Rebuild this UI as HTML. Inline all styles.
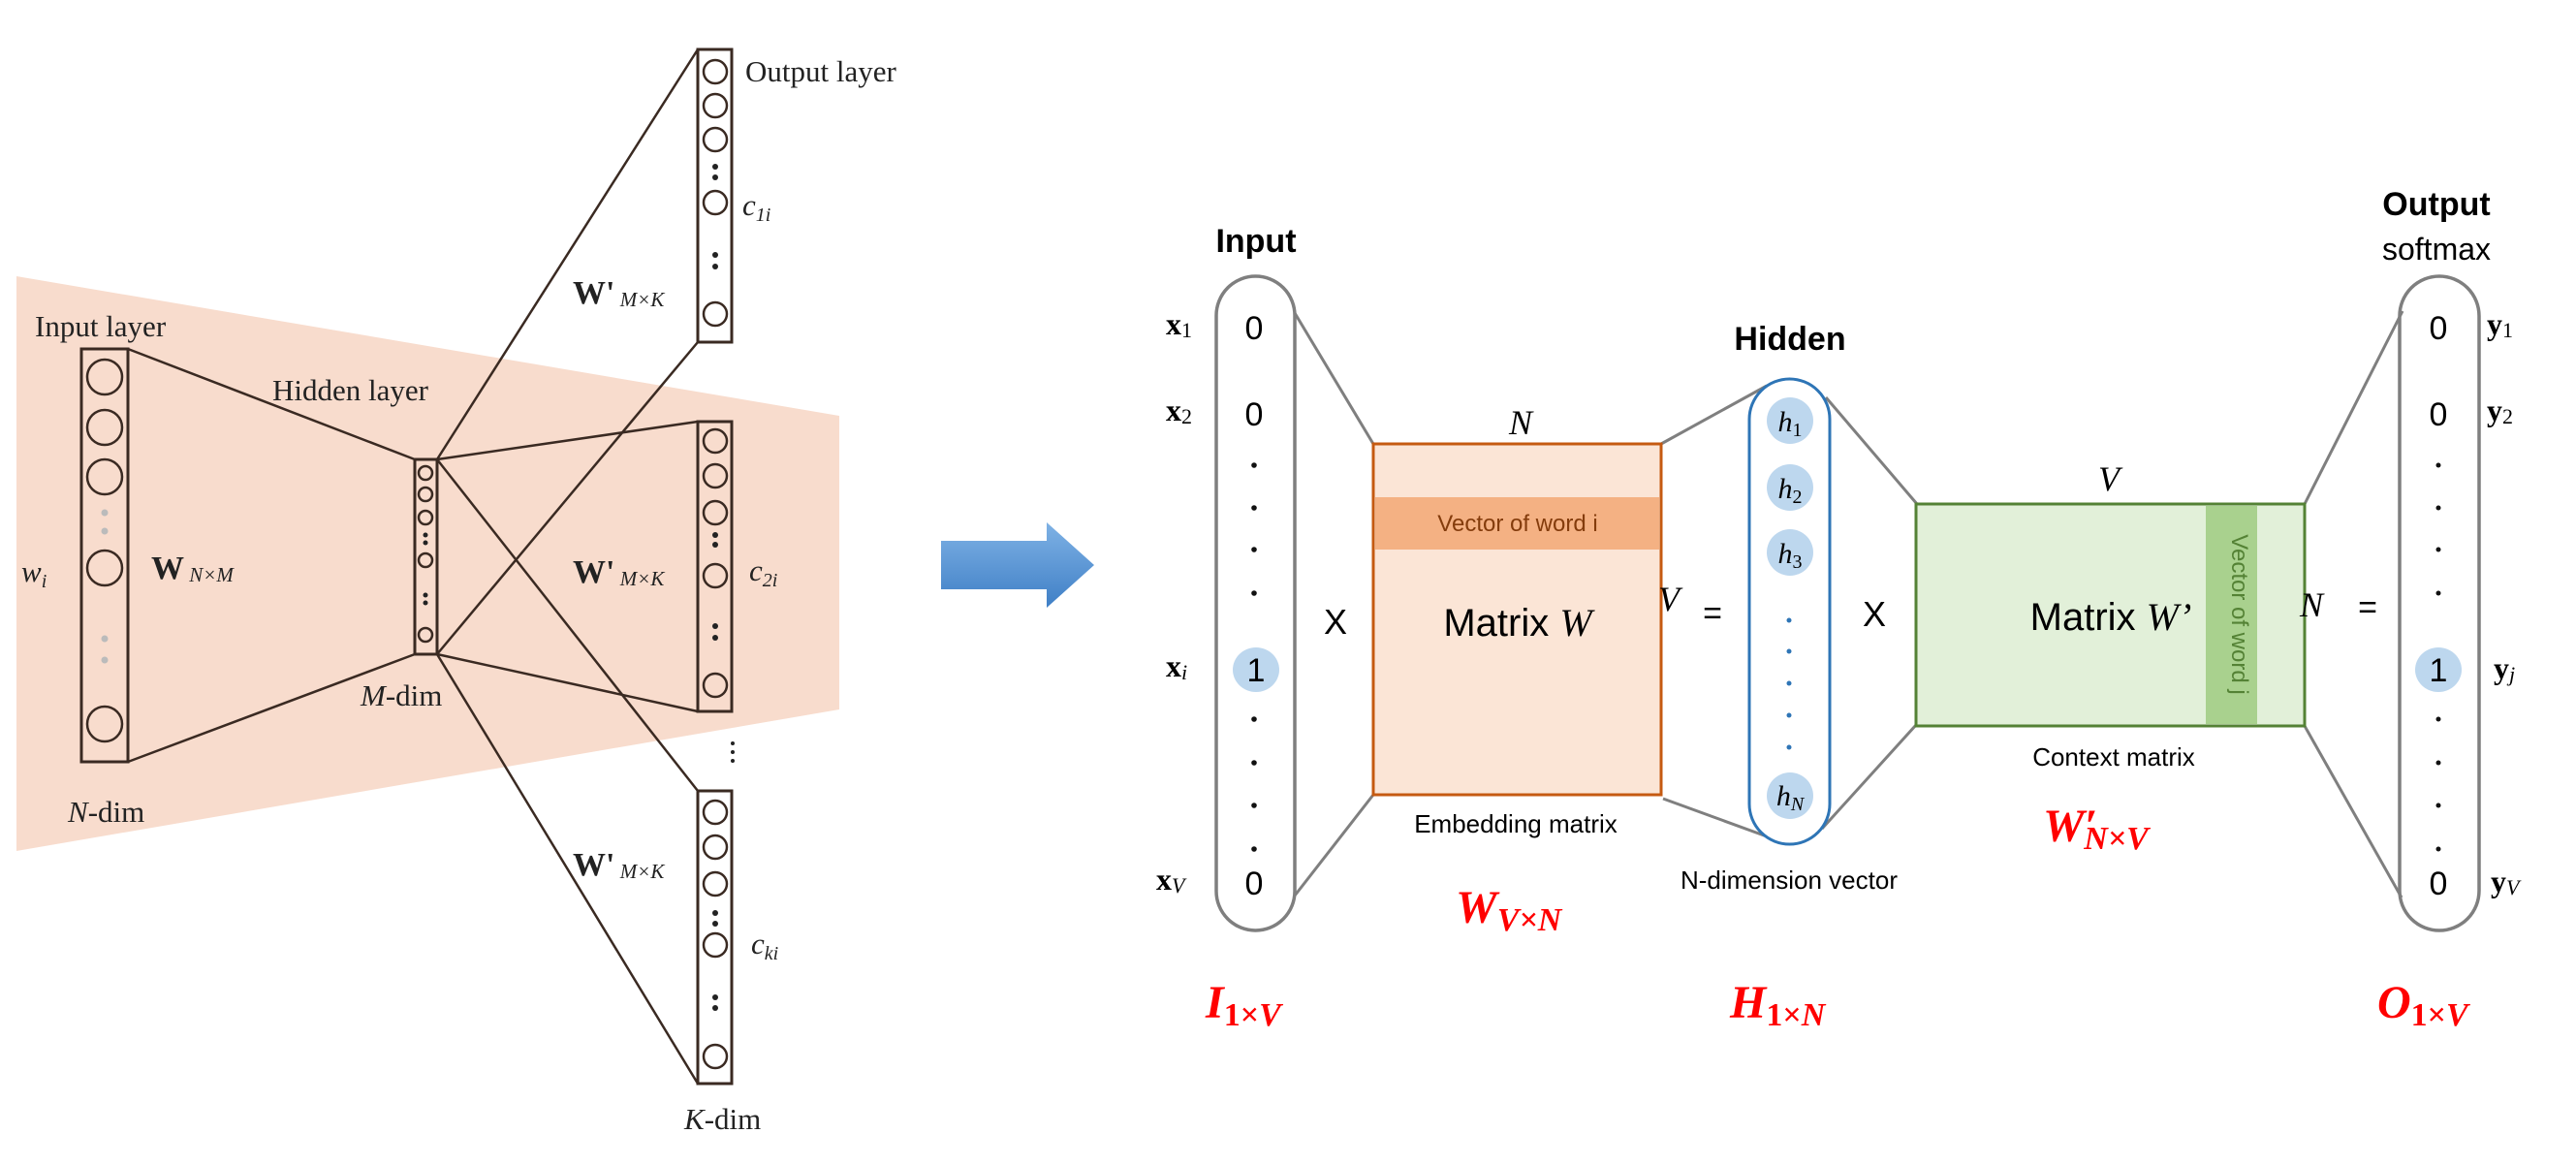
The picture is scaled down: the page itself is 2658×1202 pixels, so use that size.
<!DOCTYPE html>
<html><head><meta charset="utf-8"><style>
html,body{margin:0;padding:0;background:#fff;}
svg{display:block;}
.ser{font-family:"Liberation Serif",serif;}
.san{font-family:"Liberation Sans",sans-serif;}
</style></head><body>
<svg width="2658" height="1202" viewBox="0 0 2658 1202" xmlns="http://www.w3.org/2000/svg">
<defs>
<linearGradient id="ag" x1="0" y1="0" x2="0" y2="1">
<stop offset="0" stop-color="#7fb2e5"/><stop offset="1" stop-color="#3f7fc6"/>
</linearGradient>
</defs>
<!-- LEFT DIAGRAM -->
<polygon points="17,285 866,429 866,732 17,878" fill="#f8dccd"/>
<g stroke="#3a2a22" stroke-width="2.5" fill="none">
<line x1="132" y1="360" x2="428" y2="474"/>
<line x1="132" y1="786" x2="428" y2="675"/>
<line x1="451" y1="474" x2="720" y2="51"/>
<line x1="451" y1="675" x2="720" y2="353"/>
<line x1="451" y1="474" x2="720" y2="435"/>
<line x1="451" y1="675" x2="720" y2="734"/>
<line x1="451" y1="474" x2="720" y2="816"/>
<line x1="451" y1="675" x2="720" y2="1118"/>
<rect x="84" y="360" width="48" height="426" stroke-width="3"/>
<circle cx="108" cy="389" r="18"/><circle cx="108" cy="441" r="18"/><circle cx="108" cy="492" r="18"/>
<circle cx="108" cy="586" r="18"/><circle cx="108" cy="747" r="18"/>
<rect x="428" y="474" width="23" height="201" stroke-width="3"/>
<circle cx="439" cy="488" r="7"/><circle cx="439" cy="510" r="7"/><circle cx="439" cy="534" r="7"/>
<circle cx="439" cy="578" r="7"/><circle cx="439" cy="655" r="7"/>
<rect x="720" y="51" width="35" height="302" stroke-width="3"/>
<circle cx="738" cy="74" r="12"/><circle cx="738" cy="109" r="12"/><circle cx="738" cy="144" r="12"/><circle cx="738" cy="209" r="12"/><circle cx="738" cy="324" r="12"/>
<rect x="720" y="435" width="35" height="299" stroke-width="3"/>
<circle cx="738" cy="455" r="12"/><circle cx="738" cy="491" r="12"/><circle cx="738" cy="529" r="12"/><circle cx="738" cy="594" r="12"/><circle cx="738" cy="707" r="12"/>
<rect x="720" y="816" width="35" height="302" stroke-width="3"/>
<circle cx="738" cy="838" r="12"/><circle cx="738" cy="874" r="12"/><circle cx="738" cy="912" r="12"/><circle cx="738" cy="975" r="12"/><circle cx="738" cy="1090" r="12"/>
</g>
<g fill="#bbb"><circle cx="108" cy="529" r="3.5"/><circle cx="108" cy="548" r="3.5"/><circle cx="108" cy="659" r="3.5"/><circle cx="108" cy="681" r="3.5"/></g>
<g fill="#222">
<circle cx="439" cy="552" r="2.5"/><circle cx="439" cy="560" r="2.5"/><circle cx="439" cy="614" r="2.5"/><circle cx="439" cy="622" r="2.5"/>
<circle cx="738" cy="172" r="3"/><circle cx="738" cy="183" r="3"/><circle cx="738" cy="263" r="3"/><circle cx="738" cy="275" r="3"/>
<circle cx="738" cy="552" r="3"/><circle cx="738" cy="562" r="3"/><circle cx="738" cy="646" r="3"/><circle cx="738" cy="658" r="3"/>
<circle cx="738" cy="942" r="3"/><circle cx="738" cy="953" r="3"/><circle cx="738" cy="1029" r="3"/><circle cx="738" cy="1040" r="3"/>
<circle cx="756" cy="767" r="2"/><circle cx="756" cy="776" r="2"/><circle cx="756" cy="785" r="2"/>
</g>
<g class="ser" fill="#222" font-size="31">
<text x="36" y="347">Input layer</text>
<text x="281" y="413">Hidden layer</text>
<text x="769" y="84">Output layer</text>
<text x="22" y="600" font-style="italic">w<tspan font-size="20" dy="6">i</tspan></text>
<text x="156" y="597" font-weight="bold" font-size="34">W<tspan font-weight="normal" font-style="italic" font-size="21" dy="3"> N×M</tspan></text>
<text x="591" y="313" font-weight="bold" font-size="34">W'<tspan font-weight="normal" font-style="italic" font-size="21" dy="3"> M×K</tspan></text>
<text x="591" y="601" font-weight="bold" font-size="34">W'<tspan font-weight="normal" font-style="italic" font-size="21" dy="3"> M×K</tspan></text>
<text x="591" y="903" font-weight="bold" font-size="34">W'<tspan font-weight="normal" font-style="italic" font-size="21" dy="3"> M×K</tspan></text>
<text x="766" y="222" font-style="italic">c<tspan font-size="20" dy="6">1i</tspan></text>
<text x="773" y="599" font-style="italic">c<tspan font-size="20" dy="6">2i</tspan></text>
<text x="775" y="984" font-style="italic">c<tspan font-size="20" dy="6">ki</tspan></text>
<text x="372" y="728"><tspan font-style="italic">M</tspan>-dim</text>
<text x="70" y="848"><tspan font-style="italic">N</tspan>-dim</text>
<text x="706" y="1165"><tspan font-style="italic">K</tspan>-dim</text>
</g>
<!-- ARROW -->
<polygon points="971,558 1080,558 1080,539 1129,583 1080,627 1080,608 971,608" fill="url(#ag)"/>
<!-- RIGHT DIAGRAM -->
<g stroke="#7f7f7f" stroke-width="3" fill="none">
<line x1="1336" y1="323" x2="1417" y2="458"/>
<line x1="1336" y1="924" x2="1417" y2="820"/>
<line x1="1714" y1="458" x2="1823" y2="398"/>
<line x1="1716" y1="824" x2="1823" y2="863"/>
<line x1="1884" y1="410" x2="1978" y2="520"/>
<line x1="1880" y1="855" x2="1977" y2="748"/>
<line x1="2378" y1="520" x2="2479" y2="321"/>
<line x1="2378" y1="749" x2="2478" y2="926"/>
<rect x="1255" y="285" width="81" height="675" rx="40.5" stroke-width="3.5"/>
<rect x="2476" y="285" width="82" height="675" rx="41" stroke-width="3.5"/>
</g>
<rect x="1417" y="458" width="297" height="362" fill="#fbe5d6" stroke="#c55a11" stroke-width="3"/>
<rect x="1419" y="513" width="293" height="54" fill="#f4b183"/>
<rect x="1977" y="520" width="401" height="229" fill="#e2f0d9" stroke="#548235" stroke-width="3"/>
<rect x="2276" y="522" width="53" height="225" fill="#a9d18e"/>
<rect x="1805" y="391" width="83" height="480" rx="41.5" fill="#fff" stroke="#2e75b6" stroke-width="3"/>
<g fill="#bdd7ee">
<ellipse cx="1296" cy="691" rx="24" ry="23"/>
<ellipse cx="2516" cy="691" rx="24" ry="23"/>
<circle cx="1847" cy="434" r="24"/><circle cx="1847" cy="503" r="24"/><circle cx="1847" cy="570" r="24"/><circle cx="1847" cy="821" r="24"/>
</g>
<g fill="#2e75b6"><circle cx="1846" cy="640" r="2.5"/><circle cx="1846" cy="672" r="2.5"/><circle cx="1846" cy="705" r="2.5"/><circle cx="1846" cy="738" r="2.5"/><circle cx="1846" cy="771" r="2.5"/></g>
<g fill="#111">
<circle cx="1294" cy="480" r="2.8"/><circle cx="1294" cy="524" r="2.8"/><circle cx="1294" cy="567" r="2.8"/><circle cx="1294" cy="612" r="2.8"/>
<circle cx="1294" cy="742" r="2.8"/><circle cx="1294" cy="787" r="2.8"/><circle cx="1294" cy="831" r="2.8"/><circle cx="1294" cy="876" r="2.8"/>
<circle cx="2516" cy="480" r="2.5"/><circle cx="2516" cy="524" r="2.5"/><circle cx="2516" cy="567" r="2.5"/><circle cx="2516" cy="612" r="2.5"/>
<circle cx="2516" cy="742" r="2.5"/><circle cx="2516" cy="787" r="2.5"/><circle cx="2516" cy="831" r="2.5"/><circle cx="2516" cy="876" r="2.5"/>
</g>
<g class="san" fill="#000" text-anchor="middle">
<text x="1296" y="260" font-size="34" font-weight="bold">Input</text>
<text x="1847" y="361" font-size="34" font-weight="bold">Hidden</text>
<text x="2514" y="222" font-size="34" font-weight="bold">Output</text>
<text x="2514" y="268" font-size="32">softmax</text>
<g font-size="34">
<text x="1294" y="350">0</text><text x="1294" y="439">0</text><text x="1296" y="703">1</text><text x="1294" y="923">0</text>
<text x="2516" y="350">0</text><text x="2516" y="439">0</text><text x="2516" y="703">1</text><text x="2516" y="923">0</text>
<text x="1378" y="654" font-size="36">X</text>
<text x="1934" y="646" font-size="36">X</text>
<text x="1767" y="644">=</text>
<text x="2443" y="638">=</text>
</g>
<text x="1566" y="548" font-size="24" fill="#843c0c">Vector of word i</text>
<text x="1566" y="656" font-size="40">Matrix <tspan class="ser" font-style="italic">W</tspan></text>
<text x="2178" y="650" font-size="40">Matrix <tspan class="ser" font-style="italic">W’</tspan></text>
<text x="1564" y="859" font-size="26">Embedding matrix</text>
<text x="2181" y="790" font-size="26">Context matrix</text>
<text x="1846" y="917" font-size="26">N-dimension vector</text>
<text x="2303" y="634" font-size="24" fill="#548235" transform="rotate(90 2303 634)">Vector of word j</text>
</g>
<g class="ser" fill="#000" font-style="italic" font-size="36">
<text x="1569" y="448" text-anchor="middle">N</text>
<text x="2176" y="506" text-anchor="middle">V</text>
<text x="1722" y="630" text-anchor="middle">V</text>
<text x="2385" y="636" text-anchor="middle">N</text>
<g font-size="30">
<text x="1847" y="445" text-anchor="middle">h<tspan font-style="normal" font-size="20" dy="5">1</tspan></text>
<text x="1847" y="514" text-anchor="middle">h<tspan font-style="normal" font-size="20" dy="5">2</tspan></text>
<text x="1847" y="581" text-anchor="middle">h<tspan font-style="normal" font-size="20" dy="5">3</tspan></text>
<text x="1847" y="831" text-anchor="middle">h<tspan font-size="20" dy="5">N</tspan></text>
</g>
</g>
<g class="ser" fill="#000" font-size="32" font-weight="bold">
<text x="1203" y="345">x<tspan font-weight="normal" font-size="22" dy="3">1</tspan></text>
<text x="1203" y="434">x<tspan font-weight="normal" font-size="22" dy="3">2</tspan></text>
<text x="1203" y="698">x<tspan font-weight="normal" font-style="italic" font-size="22" dy="3">i</tspan></text>
<text x="1193" y="918">x<tspan font-weight="normal" font-style="italic" font-size="22" dy="3">V</tspan></text>
<text x="2566" y="345">y<tspan font-weight="normal" font-size="22" dy="3">1</tspan></text>
<text x="2566" y="434">y<tspan font-weight="normal" font-size="22" dy="3">2</tspan></text>
<text x="2573" y="700">y<tspan font-weight="normal" font-style="italic" font-size="22" dy="3">j</tspan></text>
<text x="2570" y="920">y<tspan font-weight="normal" font-style="italic" font-size="22" dy="3">V</tspan></text>
</g>
<g class="ser" fill="#ff0000" font-style="italic" font-weight="bold" font-size="48">
<text x="1502" y="952">W<tspan font-size="34" dy="8">V×N</tspan></text>
<text x="2108" y="868">W′<tspan font-size="34" dy="8" dx="-14">N×V</tspan></text>
<text x="1244" y="1050">I<tspan font-style="normal" font-size="34" dy="8">1×</tspan><tspan font-size="34">V</tspan></text>
<text x="1785" y="1050">H<tspan font-style="normal" font-size="34" dy="8">1×</tspan><tspan font-size="34">N</tspan></text>
<text x="2453" y="1050">O<tspan font-style="normal" font-size="34" dy="8">1×</tspan><tspan font-size="34">V</tspan></text>
</g>
</svg>
</body></html>
